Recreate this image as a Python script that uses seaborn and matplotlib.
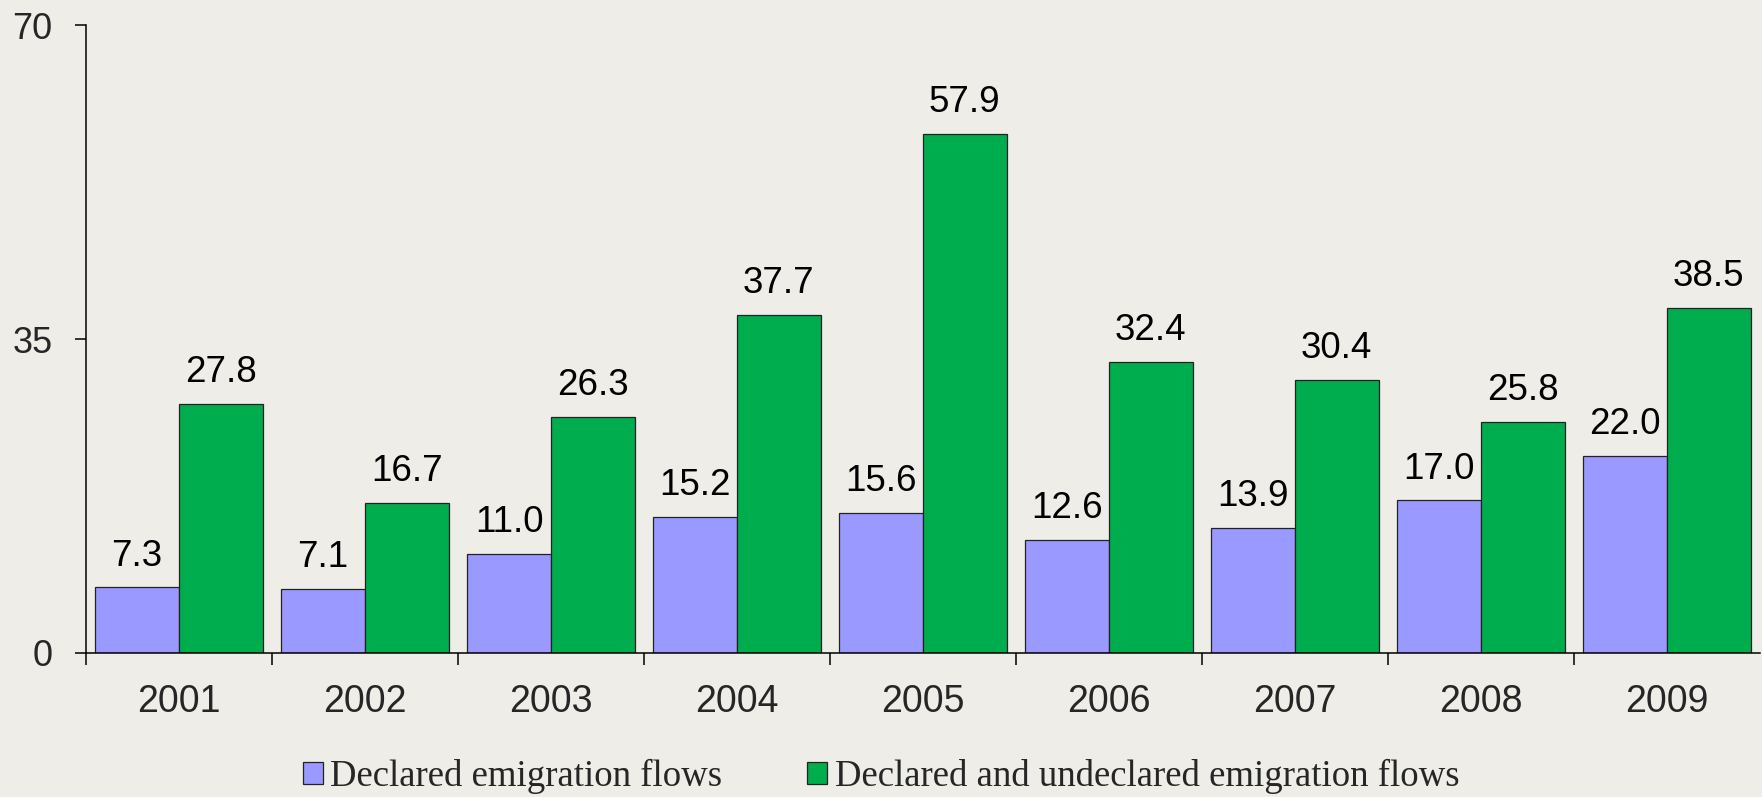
import numpy as np
import pandas as pd
import seaborn as sns
import matplotlib.pyplot as plt
from matplotlib.ticker import FixedLocator

# data
years = ["2001", "2002", "2003", "2004", "2005", "2006", "2007", "2008", "2009"]
declared = [7.3, 7.1, 11.0, 15.2, 15.6, 12.6, 13.9, 17.0, 22.0]
declared_undeclared = [27.8, 16.7, 26.3, 37.7, 57.9, 32.4, 30.4, 25.8, 38.5]
series_names = ["Declared emigration flows", "Declared and undeclared emigration flows"]
y_ticks = [0, 35, 70]

bg = "#EEEDE8"
colors = ["#9999FF", "#00AD4E"]

df = pd.DataFrame({
    "year": years * 2,
    "value": declared + declared_undeclared,
    "series": [series_names[0]] * len(years) + [series_names[1]] * len(years),
})

sns.set_style("white")
plt.rcParams["font.family"] = ["Liberation Sans", "DejaVu Sans"]

fig = plt.figure(figsize=(17.62, 7.97), dpi=100, facecolor=bg)
ax = fig.add_axes([0.0488, 0.1807, 0.95, 0.7879])
ax.set_facecolor(bg)

sns.barplot(data=df, x="year", y="value", hue="series", palette=colors, saturation=1,
            width=0.9, edgecolor="#222222", linewidth=0.9, ax=ax, legend=False)

for cont in ax.containers:
    ax.bar_label(cont, fmt="%.1f", padding=10, fontsize=26.5, color="black")

ax.set_ylim(0, 70)
ax.set_xlim(-0.5, len(years) - 0.5)
ax.set_yticks(y_ticks)
ax.set_xlabel("")
ax.set_ylabel("")

# tick marks sit between categories, labels at centers
ax.xaxis.set_minor_locator(FixedLocator(np.arange(-0.5, len(years) - 0.5, 1.0)))
ax.tick_params(axis="x", which="major", length=0, pad=22, labelsize=27)
ax.tick_params(axis="x", which="minor", length=8.5, width=1.1, color="black", direction="out", bottom=True)
ax.tick_params(axis="y", which="major", length=8, width=1.1, color="black", pad=16, labelsize=26, left=True)

for s in ["top", "right"]:
    ax.spines[s].set_visible(False)
for s in ["left", "bottom"]:
    ax.spines[s].set_color("black")
    ax.spines[s].set_linewidth(1.1)

handles = [plt.Rectangle((0, 0), 1, 1, facecolor=c, edgecolor="#222222", linewidth=0.9) for c in colors]
fig.legend(handles, series_names, loc="center", bbox_to_anchor=(0.5, 0.026), ncol=2,
           frameon=False, handlelength=0.55, handleheight=0.55, handletextpad=0.2,
           columnspacing=2.3, borderpad=0, prop={"family": "Liberation Serif", "size": 26.5})

fig.savefig("out.png", dpi=100, facecolor=bg)
